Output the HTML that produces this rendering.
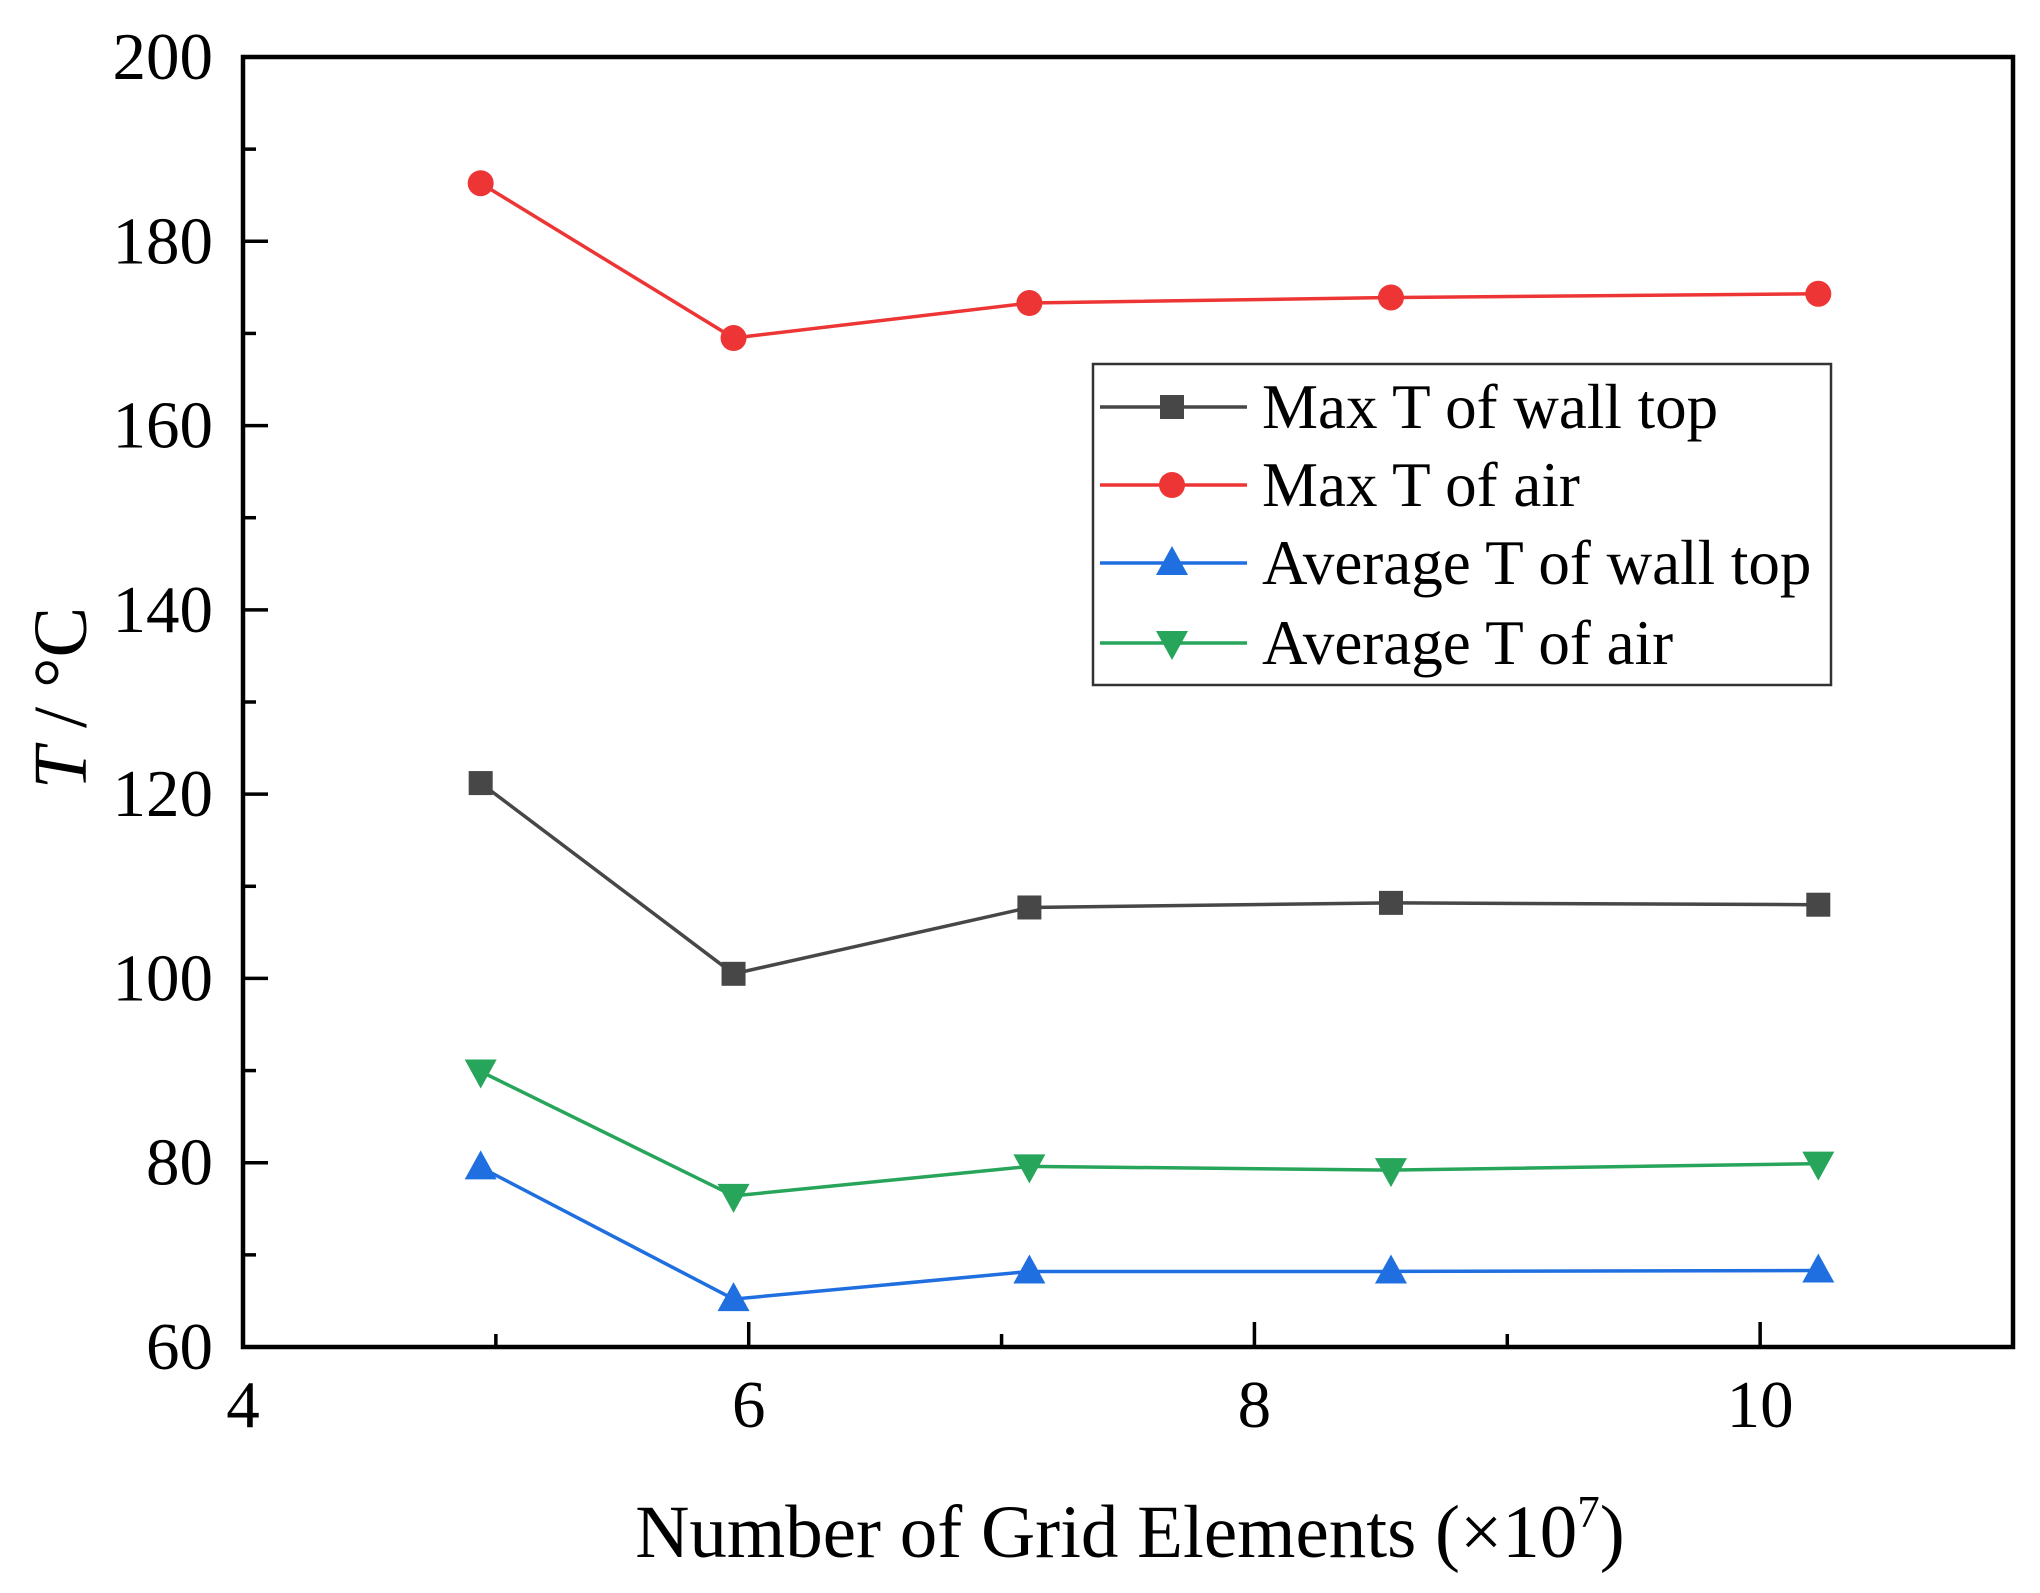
<!DOCTYPE html>
<html><head><meta charset="utf-8"><style>
html,body{margin:0;padding:0;background:#fff;}
svg{display:block;font-family:"Liberation Serif",serif;}
</style></head><body>
<svg id="chart" width="2040" height="1593" viewBox="0 0 2040 1593">
<g id="plot"></g>
</svg>
<script>
const xValues=[4.94,5.94,7.11,8.54,10.23];
const maxWallTop=[121.2,100.5,107.7,108.2,108.0];
const maxAir=[186.3,169.5,173.3,173.9,174.3];
const avgWallTop=[79.5,65.2,68.2,68.2,68.3];
const avgAir=[89.9,76.4,79.6,79.2,79.9];
const xTickLabels=["4","6","8","10"];
const yTickLabels=["60","80","100","120","140","160","180","200"];
const seriesNames=["Max T of wall top","Max T of air","Average T of wall top","Average T of air"];

const NS="http://www.w3.org/2000/svg";
const L=243,R=2013,T=57,B=1347;
const xMin=4,xMax=11,yMin=60,yMax=200;
function sx(v){return L+(v-xMin)/(xMax-xMin)*(R-L);}
function sy(v){return B-(v-yMin)/(yMax-yMin)*(B-T);}
const g=document.getElementById('plot');
function mk(tag,attrs,parent){const e=document.createElementNS(NS,tag);for(const k in attrs)e.setAttribute(k,attrs[k]);(parent||g).appendChild(e);return e;}

for(let v=4;v<=11;v+=1){
  const major=(v%2===0);
  const t=mk('line',{x1:sx(v),x2:sx(v),y1:B,y2:B-(major?25:13),stroke:'#000','stroke-width':3.5});
  
  
}
for(let v=60;v<=200;v+=10){
  const major=(v%20===0);
  const t=mk('line',{x1:L,x2:L+(major?25:13),y1:sy(v),y2:sy(v),stroke:'#000','stroke-width':3.5});
  
  
}
xTickLabels.forEach(s=>{
  const t=mk('text',{x:sx(+s),y:1427,'text-anchor':'middle','font-size':67,fill:'#000'});
  t.textContent=s;
  
  
});
yTickLabels.forEach(s=>{
  const t=mk('text',{x:213,y:sy(+s)+22,'text-anchor':'end','font-size':67,fill:'#000'});
  t.textContent=s;
  
  
});
const fr=mk('rect',{x:L,y:T,width:R-L,height:B-T,fill:'none',stroke:'#000','stroke-width':4.5});



const xt=mk('text',{x:1130,y:1557,'text-anchor':'middle','font-size':75,fill:'#000'});
xt.innerHTML='Number of Grid Elements (×10<tspan dy="-30" font-size="45">7</tspan><tspan dy="30">)</tspan>';


const yt=mk('text',{x:0,y:0,'text-anchor':'middle','font-size':76,fill:'#000',transform:'translate(86,698) rotate(-90)'});
yt.innerHTML='<tspan font-style="italic">T</tspan> / °C';



function marker(type,cx,cy,color,parent){
  let e;
  if(type==='square')e=mk('rect',{x:cx-12,y:cy-12,width:24,height:24,fill:color},parent);
  else if(type==='circle')e=mk('circle',{cx:cx,cy:cy,r:13,fill:color},parent);
  else if(type==='up')e=mk('polygon',{points:`${cx},${cy-17} ${cx-16},${cy+12} ${cx+16},${cy+12}`,fill:color},parent);
  else e=mk('polygon',{points:`${cx},${cy+17} ${cx-16},${cy-12} ${cx+16},${cy-12}`,fill:color},parent);
  return e;
}
const series=[
 {vals:maxWallTop,color:'#474747',m:'square',name:'max-wall-top'},
 {vals:maxAir,color:'#ee3535',m:'circle',name:'max-air'},
 {vals:avgWallTop,color:'#1f6fe0',m:'up',name:'avg-wall-top'},
 {vals:avgAir,color:'#27a55b',m:'down',name:'avg-air'}
];
series.forEach(s=>{
  const pts=s.vals.map((v,i)=>sx(xValues[i])+','+sy(v)).join(' ');
  const pl=mk('polyline',{points:pts,fill:'none',stroke:s.color,'stroke-width':3.5});
  
  
  s.vals.forEach((v,i)=>{
    const p=marker(s.m,sx(xValues[i]),sy(v),s.color);
    
    
  });
});

const lg=mk('g',{});


mk('rect',{x:1093,y:364,width:738,height:321,fill:'#fff',stroke:'#333','stroke-width':2.5},lg);
const rowsY=[407,485,563,643];
series.forEach((s,i)=>{
  const y=rowsY[i];
  const ent=mk('g',{},lg);
  
  
  mk('line',{x1:1100,x2:1247,y1:y,y2:y,stroke:s.color,'stroke-width':3.5},ent);
  marker(s.m,1172,y,s.color,ent);
  const t=mk('text',{x:1262,y:y+21,'font-size':63,fill:'#000'},ent);
  t.textContent=seriesNames[i];
});
</script>
</body></html>
